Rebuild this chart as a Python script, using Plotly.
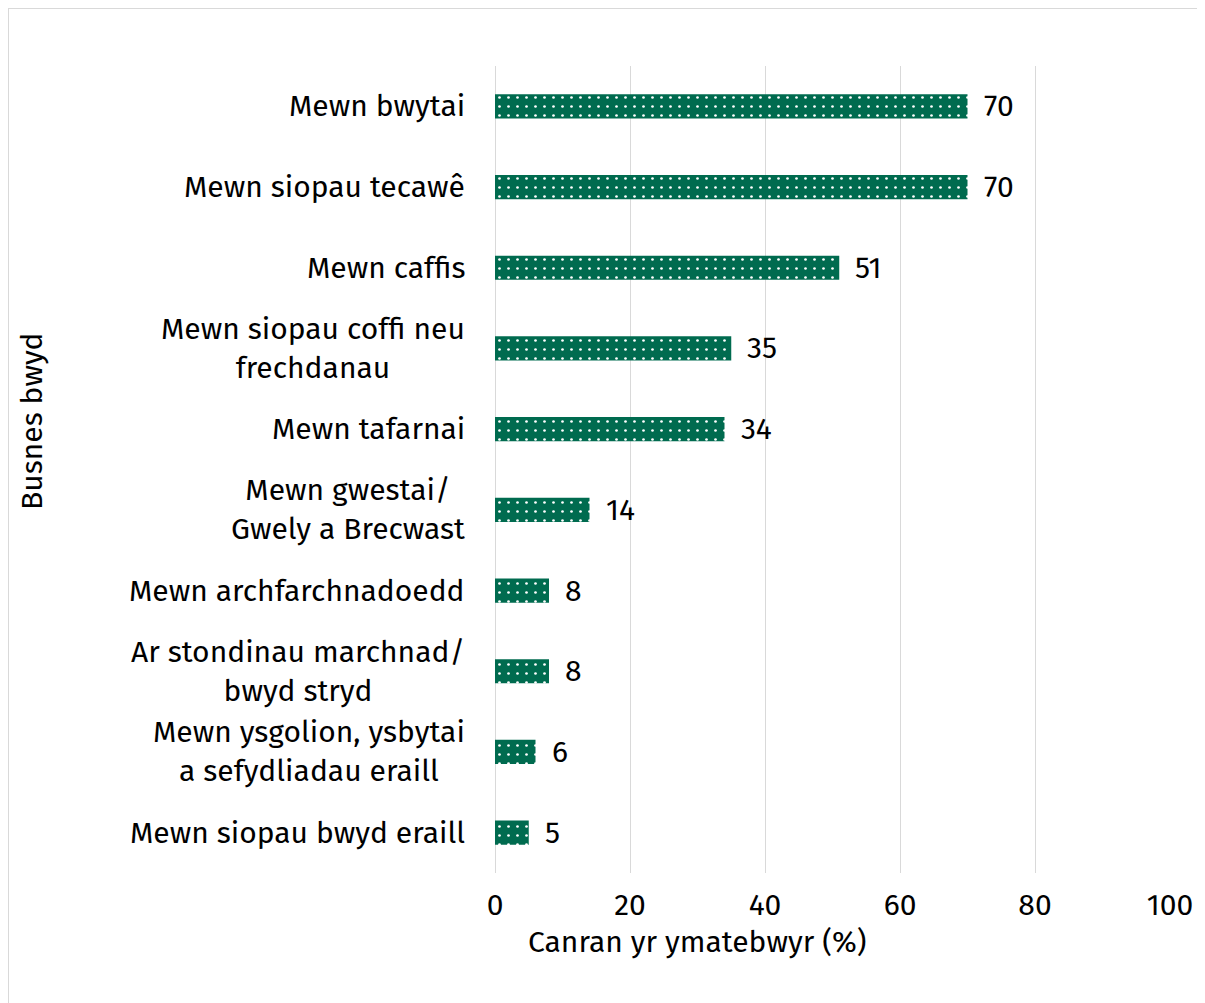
import plotly.graph_objects as go

categories = [
    "Mewn bwytai",
    "Mewn siopau tecawê",
    "Mewn caffis",
    "Mewn siopau coffi neu<br>frechdanau",
    "Mewn tafarnai",
    "Mewn gwestai/<br>Gwely a Brecwast",
    "Mewn archfarchnadoedd",
    "Ar stondinau marchnad/<br>bwyd stryd",
    "Mewn ysgolion, ysbytai<br>a sefydliadau eraill",
    "Mewn siopau bwyd eraill",
]
values = [70, 70, 51, 35, 34, 14, 8, 8, 6, 5]
x_ticks = [0, 20, 40, 60, 80, 100]

GREEN = "#006B4F"
FONT = "Fira Sans, Noto Sans, sans-serif"
FS = 30

fig = go.Figure(
    go.Bar(
        x=values,
        y=categories,
        orientation="h",
        marker=dict(
            color=GREEN,
            line=dict(width=0),
            pattern=dict(shape=".", fgcolor="white", bgcolor=GREEN,
                         size=9, solidity=0.07, fillmode="replace"),
        ),
        width=0.3,
        hoverinfo="x+y",
    )
)

# Page is rendered with an 8px body margin; coordinates below compensate.
OFF = 8
L, T = 495 - OFF, 66 - OFF
W, H = 1205, 1003
pw, ph = 675, 807
R, B = W - L - pw, H - T - ph

# value labels
annotations = [
    dict(text=str(v), x=v, y=c, xref="x", yref="y", showarrow=False,
         xanchor="left", yanchor="middle", xshift=14,
         font=dict(size=FS, color="black"))
    for c, v in zip(categories, values)
]
# category labels (centre-aligned lines, right-anchored to the axis)
annotations += [
    dict(text=c, x=0, y=c, xref="paper", yref="y", showarrow=False,
         xanchor="right", yanchor="middle", align="center", xshift=-28,
         font=dict(size=FS, color="black"))
    for c in categories
]
annotations += [
    dict(text="Canran yr ymatebwyr (%)", xref="paper", yref="paper",
         x=(697 - OFF - L) / pw, y=(T + ph - (942 - OFF)) / ph, showarrow=False,
         xanchor="center", yanchor="middle", font=dict(size=FS)),
    dict(text="Busnes bwyd", xref="paper", yref="paper",
         x=(32 - OFF - L) / pw, y=(T + ph - (421 - OFF)) / ph, showarrow=False,
         textangle=-90, xanchor="center", yanchor="middle", font=dict(size=FS)),
]

fig.update_layout(
    width=W, height=H,
    margin=dict(l=L, r=R, t=T, b=B),
    plot_bgcolor="white", paper_bgcolor="white",
    font=dict(family=FONT, size=FS, color="black"),
    showlegend=False,
    xaxis=dict(
        range=[0, 100], tickvals=x_ticks, showgrid=True,
        gridcolor="#d9d9d9", gridwidth=1, zeroline=True,
        zerolinecolor="#d9d9d9", zerolinewidth=1, showline=False,
        tickfont=dict(size=FS), ticks="", ticklabelstandoff=11,
    ),
    yaxis=dict(
        categoryorder="array", categoryarray=categories[::-1],
        showgrid=False, ticks="", showticklabels=False, showline=False,
    ),
    annotations=annotations,
    shapes=[
        dict(type="rect", xref="paper", yref="paper",
             x0=(0 - L) / pw, x1=(W + 20 - L) / pw,
             y0=(T + ph - (H + 20)) / ph, y1=(T + ph - 0) / ph,
             line=dict(color="#d9d9d9", width=2), layer="below"),
    ],
)

fig.write_html("out.html")
